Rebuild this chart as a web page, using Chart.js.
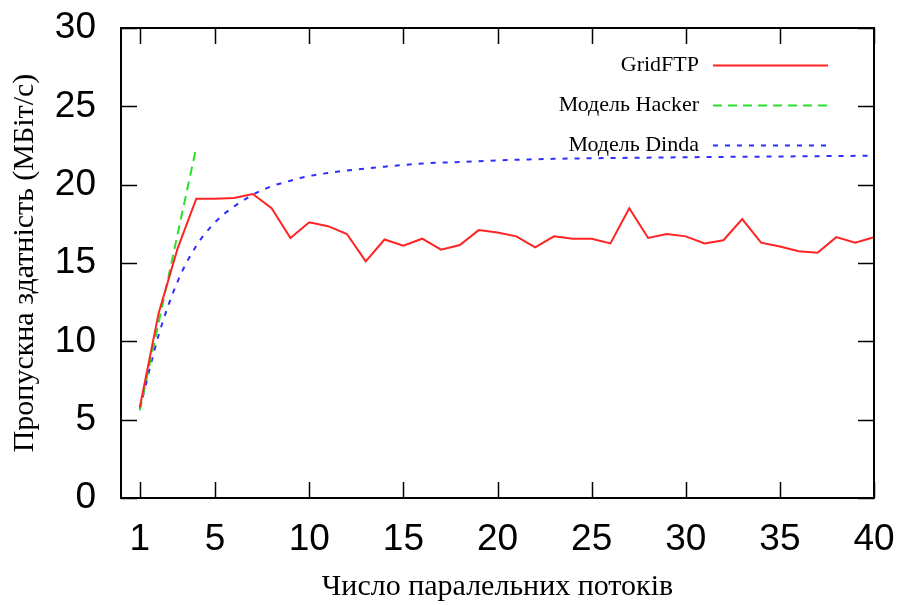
<!DOCTYPE html>
<html>
<head>
<meta charset="utf-8">
<script src="https://cdn.jsdelivr.net/npm/chart.js@4.4.1/dist/chart.umd.min.js"></script>
<style>
  html, body { margin: 0; padding: 0; background: #fff; }
  #wrap { width: 905px; height: 605px; }
</style>
</head>
<body>
<div id="wrap"><canvas id="chart" width="905" height="605"></canvas></div>
<script>
// Measured throughput vs. number of parallel streams, plus two model curves
const threads = [1, 2, 3, 4, 5, 6, 7, 8, 9, 10, 11, 12, 13, 14, 15, 16, 17, 18, 19, 20,
                 21, 22, 23, 24, 25, 26, 27, 28, 29, 30, 31, 32, 33, 34, 35, 36, 37, 38, 39, 40];
const gridftp = [5.8, 11.8, 15.9, 19.1, 19.1, 19.15, 19.4, 18.5, 16.6, 17.6,
                 17.35, 16.85, 15.1, 16.5, 16.1, 16.55, 15.85, 16.15, 17.1, 16.95,
                 16.7, 16.0, 16.7, 16.55, 16.55, 16.25, 18.5, 16.6, 16.85, 16.7,
                 16.25, 16.45, 17.8, 16.3, 16.05, 15.75, 15.65, 16.65, 16.3, 16.65];

const hackerThreads = [1, 2, 3, 4];
const hacker = [5.6, 11.2, 16.8, 22.4];

const dindaThreads = [1, 2, 3, 4, 5, 6, 7, 8, 9, 10, 11, 12, 14, 16, 18, 20, 23, 26, 30, 35, 40];
const dinda = [5.7, 10.4, 13.8, 16.1, 17.6, 18.6, 19.35, 19.9, 20.25, 20.55, 20.75, 20.9,
               21.15, 21.35, 21.45, 21.55, 21.65, 21.7, 21.75, 21.8, 21.85];

const xTicks = [1, 5, 10, 15, 20, 25, 30, 35, 40];
const yTicks = [0, 5, 10, 15, 20, 25, 30];

const seriesNames = ['GridFTP', 'Модель Hacker', 'Модель Dinda'];

const toPoints = (xs, ys) => xs.map((x, i) => ({ x, y: ys[i] }));

const sansFont = "'Liberation Sans', Arial, Helvetica, sans-serif";
const serifFont = "'Liberation Serif', 'Times New Roman', serif";

// gnuplot-like box with ticks pointing inwards on all four sides
const framePlugin = {
  id: 'frame',
  afterDatasetsDraw(chart) {
    const { ctx, chartArea: a, scales } = chart;
    const len = 16;
    ctx.save();
    ctx.strokeStyle = '#000';
    ctx.lineWidth = 1.5;
    ctx.beginPath();
    xTicks.forEach(v => {
      const px = Math.round(scales.x.getPixelForValue(v)) + 0.5;
      ctx.moveTo(px, a.bottom); ctx.lineTo(px, a.bottom - len);
      ctx.moveTo(px, a.top); ctx.lineTo(px, a.top + len);
    });
    yTicks.forEach(v => {
      const py = Math.round(scales.y.getPixelForValue(v)) + 0.5;
      ctx.moveTo(a.left, py); ctx.lineTo(a.left + len, py);
      ctx.moveTo(a.right, py); ctx.lineTo(a.right - len, py);
    });
    ctx.stroke();
    ctx.lineWidth = 2;
    ctx.strokeRect(a.left, a.top, a.right - a.left, a.bottom - a.top);
    ctx.restore();
  }
};

// key in the top right corner: label right-aligned, sample line after it
const keyPlugin = {
  id: 'key',
  afterDraw(chart) {
    const { ctx } = chart;
    const textRight = 699, lineStart = 713, lineEnd = 828;
    const rows = [65, 105, 145];
    ctx.save();
    ctx.font = '22px ' + serifFont;
    ctx.textAlign = 'right';
    ctx.textBaseline = 'middle';
    chart.data.datasets.forEach((ds, i) => {
      ctx.fillStyle = '#000';
      ctx.fillText(ds.label, textRight, rows[i]);
      ctx.strokeStyle = ds.borderColor;
      ctx.lineWidth = ds.borderWidth;
      ctx.setLineDash(ds.borderDash || []);
      ctx.beginPath();
      ctx.moveTo(lineStart, rows[i] + 0.5);
      ctx.lineTo(lineEnd, rows[i] + 0.5);
      ctx.stroke();
    });
    ctx.restore();
  }
};

new Chart(document.getElementById('chart'), {
  type: 'line',
  data: {
    datasets: [
      {
        label: seriesNames[0],
        data: toPoints(threads, gridftp),
        borderColor: 'rgb(255, 35, 35)',
        borderWidth: 2,
        pointRadius: 0,
        tension: 0
      },
      {
        label: seriesNames[1],
        data: toPoints(hackerThreads, hacker),
        borderColor: 'rgb(40, 225, 40)',
        borderWidth: 2,
        borderDash: [9, 6],
        pointRadius: 0,
        tension: 0
      },
      {
        label: seriesNames[2],
        data: toPoints(dindaThreads, dinda),
        borderColor: 'rgb(45, 45, 255)',
        borderWidth: 2,
        borderDash: [5, 7],
        pointRadius: 0,
        cubicInterpolationMode: 'monotone'
      }
    ]
  },
  options: {
    responsive: false,
    animation: false,
    devicePixelRatio: 1,
    layout: { padding: { left: 0, top: 28, right: 31, bottom: 0 } },
    plugins: {
      legend: { display: false },
      tooltip: { enabled: false }
    },
    scales: {
      x: {
        type: 'linear',
        min: 0,
        max: 40,
        afterBuildTicks: s => { s.ticks = xTicks.map(v => ({ value: v })); },
        // fixed axis height; end labels may overhang the plot box
        afterFit: s => { s.height = 107; s.paddingLeft = 0; s.paddingRight = 0; },
        grid: { display: false, drawTicks: false },
        border: { display: false },
        ticks: {
          padding: 20,
          color: '#000',
          maxRotation: 0,
          autoSkip: false,
          font: { family: sansFont, size: 37 }
        },
        title: {
          display: true,
          text: 'Число паралельних потоків',
          color: '#000',
          font: { family: serifFont, size: 30 },
          padding: { top: 4, bottom: 0 }
        }
      },
      y: {
        type: 'linear',
        min: 0,
        max: 30,
        afterBuildTicks: s => { s.ticks = yTicks.map(v => ({ value: v })); },
        afterFit: s => { s.width = 121; s.paddingTop = 0; s.paddingBottom = 0; },
        grid: { display: false, drawTicks: false },
        border: { display: false },
        ticks: {
          padding: 25,
          color: '#000',
          font: { family: sansFont, size: 37 }
        },
        title: {
          display: true,
          text: 'Пропускна здатність (МБіт/с)',
          color: '#000',
          font: { family: serifFont, size: 30 },
          padding: { top: 7, bottom: 0 }
        }
      }
    }
  },
  plugins: [framePlugin, keyPlugin]
});
</script>
</body>
</html>
